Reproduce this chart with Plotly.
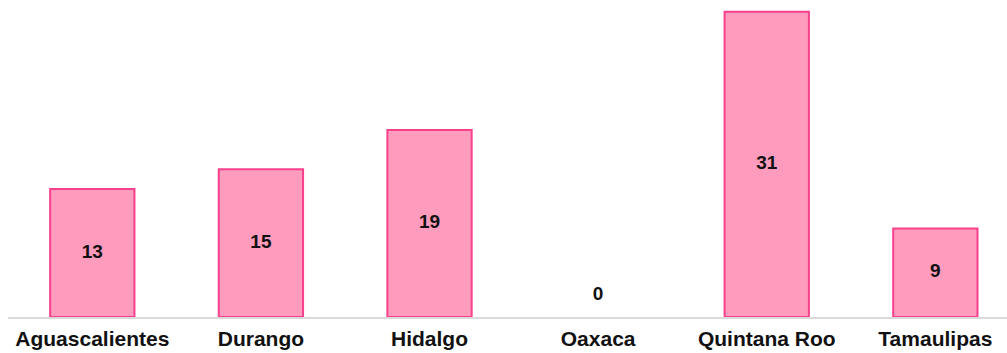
import plotly.graph_objects as go

states = ["Aguascalientes", "Durango", "Hidalgo", "Oaxaca", "Quintana Roo", "Tamaulipas"]
counts = [13, 15, 19, 0, 31, 9]

# label heights: middle of each bar, zero bars get a small lift above the axis
label_y = [max(v / 2, 2.2) for v in counts]
# no outline on empty bars
outline_w = [2 if v > 0 else 0 for v in counts]

FONT = "Liberation Sans, Arial, sans-serif"

fig = go.Figure()
fig.add_trace(go.Bar(
    x=states, y=counts,
    marker=dict(color="#FF9BBD", line=dict(color="#F7418C", width=outline_w)),
    hoverinfo="skip",
))
fig.add_trace(go.Scatter(
    x=states, y=label_y, mode="text",
    text=[str(v) for v in counts],
    texttemplate="<b>%{text}</b>",
    textposition="middle center",
    textfont=dict(family=FONT, size=19, color="#111111"),
    hoverinfo="skip",
))

fig.update_layout(
    width=1007, height=353,
    margin=dict(l=8, r=0, t=0, b=36),
    paper_bgcolor="white", plot_bgcolor="white",
    showlegend=False, bargap=0.5,
    xaxis=dict(
        range=[-0.5, 5.425],
        showline=True, linecolor="#D9D9D9", linewidth=2,
        showgrid=False, ticks="",
        tickfont=dict(family=FONT, size=21, color="#111111"),
        tickprefix="<b>", ticksuffix="</b>",
        ticklabelstandoff=2,
    ),
    yaxis=dict(range=[0, 32.2], visible=False),
)

fig.write_html("out.html")
